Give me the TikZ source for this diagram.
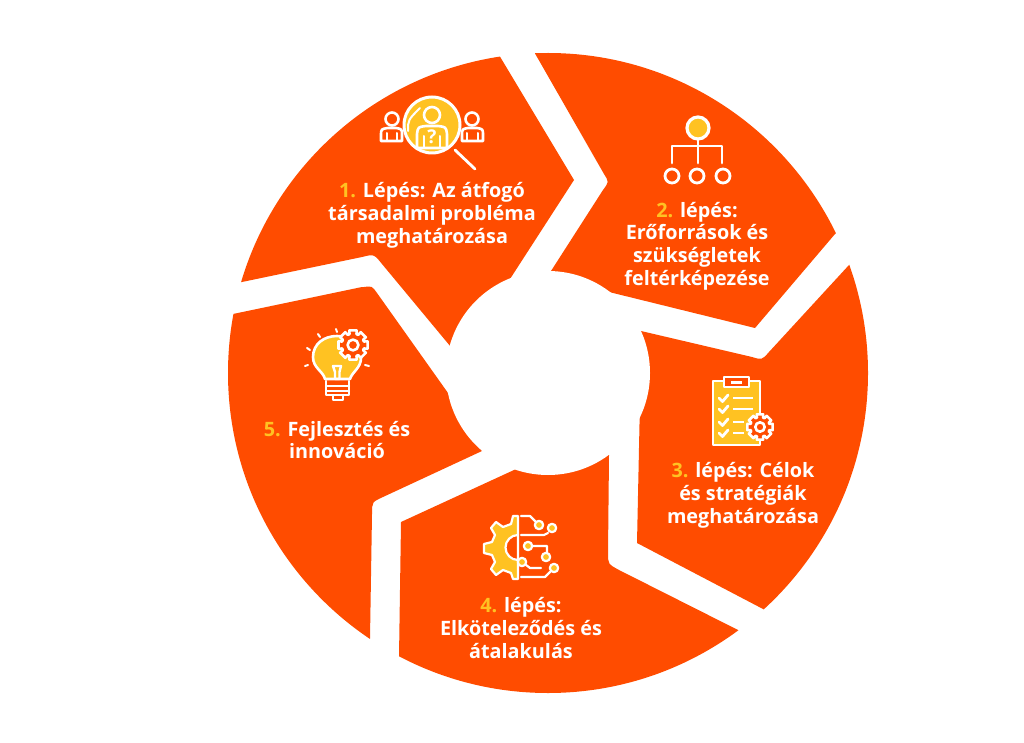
\documentclass[tikz,border=0pt]{standalone}
\usepackage{fontspec}
\setmainfont{Open Sans}
\definecolor{segorange}{HTML}{FF4C00}
\definecolor{iconyellow}{HTML}{FFC222}
\tikzset{
  x=1pt,y=-1pt,
  seg/.style={fill=segorange},
  label text/.style={text=white,font=\fontsize{19.8}{22.8}\selectfont\bfseries,align=center,inner sep=0pt},
  wl/.style={draw=white,line width=2.6pt,line cap=round,line join=round},
  yl/.style={wl,fill=iconyellow},
  ol/.style={wl,fill=segorange},
}
\newcommand{\stepnum}[1]{\textcolor{iconyellow}{#1}}
\newcommand{\cog}[3]{% x y outer radius
  \begin{scope}[shift={(#1,#2)}]
    \pgfmathsetmacro{\ra}{#3}\pgfmathsetmacro{\rb}{#3*0.76}\pgfmathsetmacro{\rc}{#3*0.36}
    \draw[ol] (-14:\ra) \foreach \a in {0,45,...,315}{ -- (\a-14:\ra) -- (\a+14:\ra) -- (\a+18:\rb) -- (\a+27:\rb)} -- cycle;
    \draw[wl] (0,0) circle[radius=\rc];
  \end{scope}}
\begin{document}
\begin{tikzpicture}
\useasboundingbox (0,0) rectangle (1024,743);
\fill[white] (0,0) rectangle (1024,743);
\begin{scope}
\clip (548,373) circle[radius=320];
% 1
\fill[seg] (510,279) -- (574,180) -- (490,40) -- (100,40) -- (100,310) -- (242,282) -- (362,257) .. controls (374,254) .. (382,264) -- (470,370) -- cycle;
% 2
\fill[seg] (551,271) -- (603,190) .. controls (609,182) .. (604,174) -- (525,36) -- (900,36) -- (900,170) -- (835,234) -- (755,328) -- (609,292) -- (560,300) -- cycle;
% 3
\fill[seg] (641,331) -- (752,357) .. controls (762,360) .. (769,352) -- (849,265) -- (900,210) -- (950,640) -- (790,625) -- (763,609) -- (637,543) -- (640,400) -- cycle;
% 4
\fill[seg] (514,470) -- (401,522) -- (399,657) -- (398,720) -- (760,720) -- (780,652) -- (738,630) -- (619,570) .. controls (608,564) .. (608,553) -- (609,455) -- (560,440) -- cycle;
% 5
\fill[seg] (233,314) -- (362,287) -- (364,287) .. controls (372,286) .. (377,293) -- (448,393) -- (482,451) -- (383,497) .. controls (372,502) .. (372,514) -- (370,638) -- (369,720) -- (120,720) -- (120,320) -- cycle;
\end{scope}
\fill[white] (548,373) circle[radius=102];
% icon 1
\draw[wl,line width=2.8pt] (455,150) -- (475,169);
\draw[wl] (392,119) circle[radius=6.5];
\draw[wl] (381,141) -- (381,136) .. controls (381,129) .. (388,128) -- (396,128) .. controls (402,129) .. (402,136) -- (402,141) -- cycle;
\draw[wl,line width=2pt] (387,133) -- (387,141) (397,133) -- (397,141);
\draw[wl] (472,119) circle[radius=6.5];
\draw[wl] (462,141) -- (462,136) .. controls (462,129) .. (468,128) -- (477,128) .. controls (483,129) .. (483,136) -- (483,141) -- cycle;
\draw[wl,line width=2pt] (467,133) -- (467,141) (478,133) -- (478,141);
\draw[yl,line width=3pt] (432,125) circle[radius=28];
\draw[wl,line width=2pt] (408,131) .. controls (408,120) .. (420,108);
\draw[wl] (432,115) circle[radius=8];
\draw[wl] (417,148) -- (417,134) .. controls (418,127) .. (426,126) -- (438,126) .. controls (446,127) .. (447,134) -- (447,148) -- cycle;
\draw[wl,line width=2pt] (424,136) -- (424,148) (440,136) -- (440,148);
\node[text=white,font=\fontsize{19}{19}\selectfont\bfseries,inner sep=0pt] (q) at (432,137) {?};
% icon 2
\draw[wl,line width=2.8pt] (698,140) -- (698,163) (672,163) -- (672,146) -- (722,146) -- (722,163);
\draw[yl,line width=3.2pt] (698,128) circle[radius=11];
\foreach \cx in {672,697,723}{\draw[wl,line width=2.8pt] (\cx,176) circle[radius=7];}
% icon 3
\draw[yl] (713,381) rectangle (760,445);
\draw[ol] (724,377) rectangle (749,387);
\fill[white] (731,381) rectangle (742,383.5);
\foreach \cy/\ex in {398/753,409/753,422/744,433/744}{
  \draw[wl,line width=2.8pt] (719,\cy) -- (722.5,\cy+3.5) -- (728,\cy-3);
  \draw[wl,line cap=butt] (733,\cy) -- (\ex,\cy);
}
\cog{760}{427}{13}
% icon 4
\fill[iconyellow] (518,516) -- (513,516) -- (511,524) -- (503,527) -- (496,522) -- (491,528) -- (495,535) -- (492,542) -- (484,544) -- (484,553) -- (492,555) -- (495,562) -- (491,569) -- (496,575) -- (503,570) -- (511,573) -- (513,579) -- (518,579) -- (518,560) arc[start angle=90,end angle=270,radius=12.5] -- cycle;
\draw[wl,line width=2.2pt] (518,516) -- (513,516) -- (511,524) -- (503,527) -- (496,522) -- (491,528) -- (495,535) -- (492,542) -- (484,544) -- (484,553) -- (492,555) -- (495,562) -- (491,569) -- (496,575) -- (503,570) -- (511,573) -- (513,579) -- (518,579) -- (518,516);
\draw[wl,line width=2.2pt] (518,560) arc[start angle=90,end angle=270,radius=12.5];
\draw[wl,line width=2.2pt] (521,516) -- (530,516) -- (536,522) (548,533) -- (544,535) -- (521,535) (532,546) -- (547,546) -- (547,553) (526,565) -- (530,568) -- (541,568) (550,572) -- (545,577) -- (521,577);
\foreach \px/\py in {539/525,552/528,528/546,546/557,522/562,554/568}{\draw[yl,line width=2.2pt] (\px,\py) circle[radius=4.2];}
% icon 5
\draw[yl] (325,379) .. controls (323,371) and (313,368) .. (313,357) .. controls (313,344) and (324,336) .. (337,336) .. controls (350,336) and (361,345) .. (361,358) .. controls (361,368) and (352,372) .. (350,379) -- cycle;
\draw[wl,line width=2.4pt] (333,366) -- (341,366) -- (339.5,372) -- (339.5,379) -- (335,379) -- (335,372) -- cycle;
\draw[wl,line width=2.4pt] (325,379) -- (350,379) (326,381) -- (326,395) -- (349,395) -- (349,381) (326,386) -- (349,386) (326,391) -- (349,391);
\draw[wl,line width=2.4pt] (333,396) -- (333,400) -- (343,400) -- (343,396);
\draw[wl,line width=2pt] (318,334) -- (320,337) (336,329) -- (337,332) (307,348) -- (310,350) (305,366) -- (308,365) (365,365) -- (369,366);
\cog{353}{345}{15}
% labels
\node[label text] (t1) at (432,215) {\stepnum{1.} Lépés: Az átfogó\\társadalmi probléma\\meghatározása};
\node[label text] (t2) at (697,246) {\stepnum{2.} lépés:\\Erőforrások és\\szükségletek\\feltérképezése};
\node[label text] (t3) at (743,495) {\stepnum{3.} lépés: Célok\\és stratégiák\\meghatározása};
\node[label text] (t4) at (521,628) {\stepnum{4.} lépés:\\Elköteleződés és\\átalakulás};
\node[label text] (t5) at (337,440) {\stepnum{5.} Fejlesztés és\\innováció};
\end{tikzpicture}
\end{document}
